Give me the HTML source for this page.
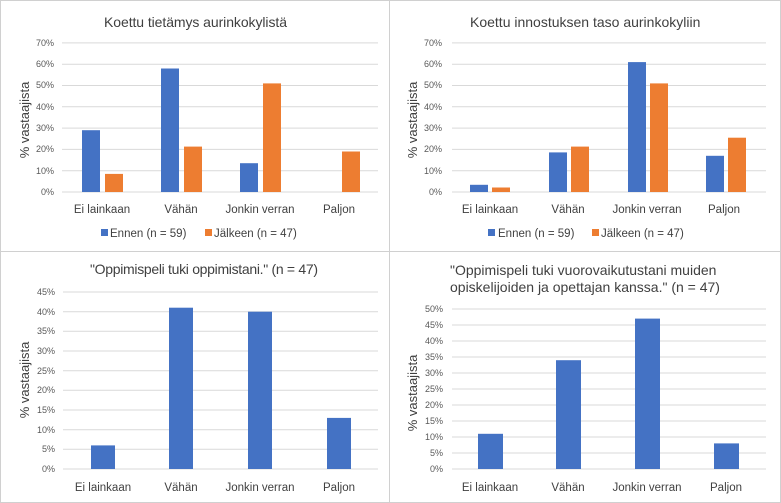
<!DOCTYPE html>
<html><head><meta charset="utf-8"><style>
html,body{margin:0;padding:0;background:#fff}
svg{display:block;font-family:"Liberation Sans",sans-serif}
.t{font-size:9px;fill:#595959;text-anchor:end}
.c{font-size:11.5px;fill:#404040;text-anchor:middle}
.ti{font-size:14px;fill:#404040}
.ya{font-size:13px;fill:#404040;text-anchor:middle}
.lg{font-size:11.5px;fill:#404040}
.g{stroke:#d9d9d9;stroke-width:1}
</style></head><body>
<svg width="781" height="503" viewBox="0 0 781 503">
<rect x="0.5" y="0.5" width="780" height="502" fill="#fff" stroke="#d0d0d0"/>
<line x1="389.5" y1="0" x2="389.5" y2="503" stroke="#d0d0d0"/>
<line x1="0" y1="251.5" x2="781" y2="251.5" stroke="#d0d0d0"/>

<!-- TL -->
<text class="ti" x="104" y="27" textLength="183">Koettu tietämys aurinkokylistä</text>
<g class="g">
<line x1="62" x2="378" y1="42.9" y2="42.9"/><line x1="62" x2="378" y1="64.2" y2="64.2"/><line x1="62" x2="378" y1="85.5" y2="85.5"/><line x1="62" x2="378" y1="106.8" y2="106.8"/><line x1="62" x2="378" y1="128.1" y2="128.1"/><line x1="62" x2="378" y1="149.4" y2="149.4"/><line x1="62" x2="378" y1="170.7" y2="170.7"/><line x1="62" x2="378" y1="192" y2="192"/>
</g>
<g class="t"><text x="54" y="46">70%</text><text x="54" y="67">60%</text><text x="54" y="88">50%</text><text x="54" y="110">40%</text><text x="54" y="131">30%</text><text x="54" y="152">20%</text><text x="54" y="174">10%</text><text x="54" y="195">0%</text></g>
<text class="ya" transform="translate(29,120) rotate(-90)">% vastaajista</text>
<g fill="#4472c4"><rect x="82" y="130.2" width="18" height="61.8"/><rect x="161" y="68.5" width="18" height="123.5"/><rect x="240" y="163.2" width="18" height="28.8"/></g>
<g fill="#ed7d31"><rect x="105" y="173.9" width="18" height="18.1"/><rect x="184" y="146.6" width="18" height="45.4"/><rect x="263" y="83.4" width="18" height="108.6"/><rect x="342" y="151.5" width="18" height="40.5"/></g>
<g class="c"><text x="102" y="213">Ei lainkaan</text><text x="181" y="213">Vähän</text><text x="260" y="213">Jonkin verran</text><text x="339" y="213">Paljon</text></g>
<rect x="101" y="229" width="7" height="7" fill="#4472c4"/><text class="lg" x="110" y="237">Ennen (n = 59)</text>
<rect x="205" y="229" width="7" height="7" fill="#ed7d31"/><text class="lg" x="214" y="237">Jälkeen (n = 47)</text>

<!-- TR -->
<text class="ti" x="470" y="27">Koettu innostuksen taso aurinkokyliin</text>
<g class="g">
<line x1="452" x2="766" y1="42.9" y2="42.9"/><line x1="452" x2="766" y1="64.2" y2="64.2"/><line x1="452" x2="766" y1="85.5" y2="85.5"/><line x1="452" x2="766" y1="106.8" y2="106.8"/><line x1="452" x2="766" y1="128.1" y2="128.1"/><line x1="452" x2="766" y1="149.4" y2="149.4"/><line x1="452" x2="766" y1="170.7" y2="170.7"/><line x1="452" x2="766" y1="192" y2="192"/>
</g>
<g class="t"><text x="442" y="46">70%</text><text x="442" y="67">60%</text><text x="442" y="88">50%</text><text x="442" y="110">40%</text><text x="442" y="131">30%</text><text x="442" y="152">20%</text><text x="442" y="174">10%</text><text x="442" y="195">0%</text></g>
<text class="ya" transform="translate(417,120) rotate(-90)">% vastaajista</text>
<g fill="#4472c4"><rect x="470" y="184.8" width="18" height="7.2"/><rect x="549" y="152.4" width="18" height="39.6"/><rect x="628" y="62.1" width="18" height="129.9"/><rect x="706" y="155.8" width="18" height="36.2"/></g>
<g fill="#ed7d31"><rect x="492" y="187.5" width="18" height="4.5"/><rect x="571" y="146.6" width="18" height="45.4"/><rect x="650" y="83.4" width="18" height="108.6"/><rect x="728" y="137.7" width="18" height="54.3"/></g>
<g class="c"><text x="490" y="213">Ei lainkaan</text><text x="568" y="213">Vähän</text><text x="647" y="213">Jonkin verran</text><text x="724" y="213">Paljon</text></g>
<rect x="488" y="229" width="7" height="7" fill="#4472c4"/><text class="lg" x="498" y="237">Ennen (n = 59)</text>
<rect x="592" y="229" width="7" height="7" fill="#ed7d31"/><text class="lg" x="601" y="237">Jälkeen (n = 47)</text>

<!-- BL -->
<text class="ti" x="90" y="274" textLength="228">"Oppimispeli tuki oppimistani." (n = 47)</text>
<g class="g">
<line x1="63" x2="378" y1="292" y2="292"/><line x1="63" x2="378" y1="311.7" y2="311.7"/><line x1="63" x2="378" y1="331.3" y2="331.3"/><line x1="63" x2="378" y1="351" y2="351"/><line x1="63" x2="378" y1="370.7" y2="370.7"/><line x1="63" x2="378" y1="390.3" y2="390.3"/><line x1="63" x2="378" y1="410" y2="410"/><line x1="63" x2="378" y1="429.7" y2="429.7"/><line x1="63" x2="378" y1="449.3" y2="449.3"/><line x1="63" x2="378" y1="469" y2="469"/>
</g>
<g class="t"><text x="55" y="295">45%</text><text x="55" y="315">40%</text><text x="55" y="334">35%</text><text x="55" y="354">30%</text><text x="55" y="374">25%</text><text x="55" y="393">20%</text><text x="55" y="413">15%</text><text x="55" y="433">10%</text><text x="55" y="452">5%</text><text x="55" y="472">0%</text></g>
<text class="ya" transform="translate(29,380) rotate(-90)">% vastaajista</text>
<g fill="#4472c4"><rect x="91" y="445.4" width="24" height="23.6"/><rect x="169" y="307.7" width="24" height="161.3"/><rect x="248" y="311.7" width="24" height="157.3"/><rect x="327" y="417.9" width="24" height="51.1"/></g>
<g class="c"><text x="103" y="491">Ei lainkaan</text><text x="181" y="491">Vähän</text><text x="260" y="491">Jonkin verran</text><text x="339" y="491">Paljon</text></g>

<!-- BR -->
<text class="ti" x="450" y="275">"Oppimispeli tuki vuorovaikutustani muiden</text>
<text class="ti" x="450" y="292">opiskelijoiden ja opettajan kanssa." (n = 47)</text>
<g class="g">
<line x1="452" x2="766" y1="309" y2="309"/><line x1="452" x2="766" y1="325" y2="325"/><line x1="452" x2="766" y1="341" y2="341"/><line x1="452" x2="766" y1="357" y2="357"/><line x1="452" x2="766" y1="373" y2="373"/><line x1="452" x2="766" y1="389" y2="389"/><line x1="452" x2="766" y1="405" y2="405"/><line x1="452" x2="766" y1="421" y2="421"/><line x1="452" x2="766" y1="437" y2="437"/><line x1="452" x2="766" y1="453" y2="453"/><line x1="452" x2="766" y1="469" y2="469"/>
</g>
<g class="t"><text x="443" y="312">50%</text><text x="443" y="328">45%</text><text x="443" y="344">40%</text><text x="443" y="360">35%</text><text x="443" y="376">30%</text><text x="443" y="392">25%</text><text x="443" y="408">20%</text><text x="443" y="424">15%</text><text x="443" y="440">10%</text><text x="443" y="456">5%</text><text x="443" y="472">0%</text></g>
<text class="ya" transform="translate(417,393) rotate(-90)">% vastaajista</text>
<g fill="#4472c4"><rect x="478" y="433.8" width="25" height="35.2"/><rect x="556" y="360.2" width="25" height="108.8"/><rect x="635" y="318.6" width="25" height="150.4"/><rect x="714" y="443.4" width="25" height="25.6"/></g>
<g class="c"><text x="490" y="491">Ei lainkaan</text><text x="568" y="491">Vähän</text><text x="647" y="491">Jonkin verran</text><text x="726" y="491">Paljon</text></g>
</svg>
</body></html>
